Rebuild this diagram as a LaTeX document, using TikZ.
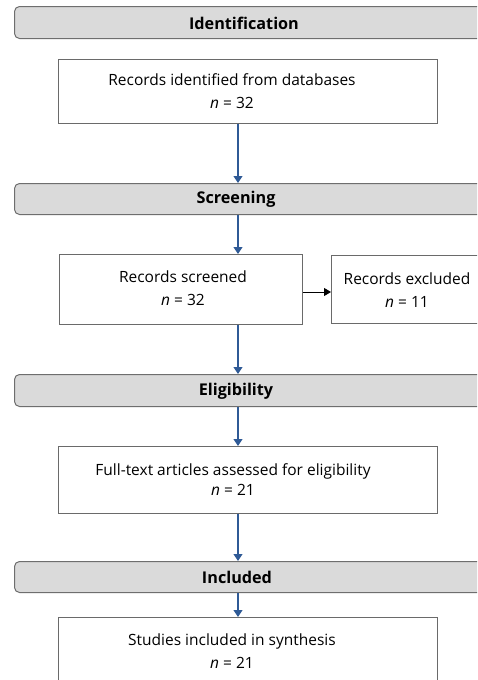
\documentclass[tikz,border=0pt]{standalone}
\usepackage{fontspec}
\setmainfont{Open Sans}
\usetikzlibrary{arrows.meta}
\definecolor{bandfill}{HTML}{DADADA}
\definecolor{bandline}{HTML}{6E6E6E}
\definecolor{boxline}{HTML}{6A6A6A}
\definecolor{arrowblue}{HTML}{2F5A96}
\begin{document}
\begin{tikzpicture}[x=1pt,y=-1pt,
  band/.style={draw=bandline, fill=bandfill, rounded corners=5pt, line width=1pt, inner sep=0pt, anchor=north west},
  box/.style={draw=boxline, line width=0.9pt, fill=white, inner sep=0pt, anchor=north west},
  bandtext/.style={font=\fontsize{16.2}{18}\selectfont\bfseries, inner sep=0pt},
  boxtext/.style={font=\fontsize{15.5}{23}\selectfont, align=center, inner sep=0pt},
  flow/.style={draw=arrowblue, line width=1.1pt, -{Triangle[width=9pt,length=7pt]}},
  side/.style={draw=black, line width=1pt, -{Triangle[width=8pt,length=7pt]}}]
\useasboundingbox (0,0) rectangle (477,680);
\clip (0,0) rectangle (477,680);
\fill[white] (0,0) rectangle (477,680);
% stage banners
\node[band, minimum width=510pt, minimum height=32pt] (b1) at (14,6) {};
\node[band, minimum width=510pt, minimum height=31pt] (b2) at (14,183) {};
\node[band, minimum width=510pt, minimum height=32pt] (b3) at (14,374) {};
\node[band, minimum width=510pt, minimum height=31pt] (b4) at (14,561) {};
\node[bandtext] (t1) at (244,23) {Identification};
\node[bandtext] (t2) at (236,199) {Screening};
\node[bandtext] (t3) at (236,391) {Eligibility};
\node[bandtext] (t4) at (237,577) {Included};
% boxes
\node[box, minimum width=379pt, minimum height=64pt] (x1) at (58,59) {};
\node[box, minimum width=243pt, minimum height=70pt] (x2) at (59,254) {};
\node[box, minimum width=200pt, minimum height=68pt] (x5) at (331,255) {};
\node[box, minimum width=379pt, minimum height=67pt] (x3) at (58,446) {};
\node[box, minimum width=379pt, minimum height=90pt] (x4) at (58,617) {};
\node[boxtext] (s1) at (232,91.5) {Records identified from databases\\\textit{n} = 32};
\node[boxtext] (s2) at (183,288.5) {Records screened\\\textit{n} = 32};
\node[boxtext] (s5) at (407,290.5) {Records excluded\\\textit{n} = 11};
\node[boxtext, font=\fontsize{15.5}{20}\selectfont] (s3) at (233,480) {Full-text articles assessed for eligibility\\\textit{n} = 21};
\node[boxtext] (s4) at (232,651.5) {Studies included in synthesis\\\textit{n} = 21};
% connectors
\coordinate (ax) at (238,0);
\draw[flow] (x1.south -| ax) -- (b2.north -| ax);
\draw[flow] (b2.south -| ax) -- (x2.north -| ax);
\draw[flow] (x2.south -| ax) -- (b3.north -| ax);
\draw[flow] (b3.south -| ax) -- (x3.north -| ax);
\draw[flow] (x3.south -| ax) -- (b4.north -| ax);
\draw[flow] (b4.south -| ax) -- (x4.north -| ax);
\coordinate (sy) at (0,292);
\draw[side] (x2.east |- sy) -- (x5.west |- sy);
\end{tikzpicture}
\end{document}
